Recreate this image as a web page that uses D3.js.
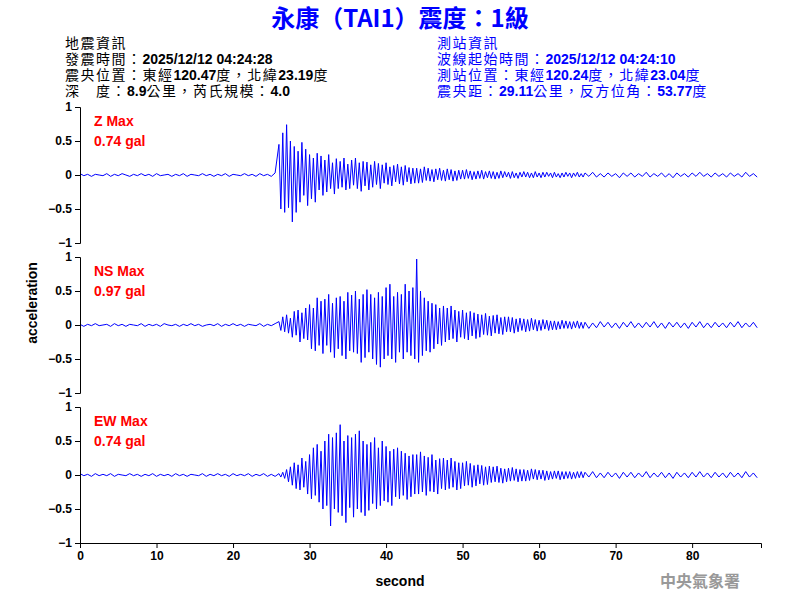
<!DOCTYPE html>
<html><head><meta charset="utf-8">
<script src="https://cdn.jsdelivr.net/npm/d3@7"></script>
<style>body{margin:0;background:#fff}</style>
</head><body>
<script>
// segment starts / steps (seconds)
var noiseStart = 0, noiseStep = 0.5;
var activeStart = 26, activeStep = 0.25;
var tailStart = 66, tailStep = 0.5;

var channels = ["Z", "NS", "EW"];
var maxValues = ["0.74", "0.97", "0.74"];

var zNoise = [0.02,-0.01,0.01,-0.02,0.01,0.00,-0.01,0.02,-0.02,0.01,-0.01,0.02,0.00,-0.02,0.01,-0.01,0.02,-0.01,0.01,-0.02,0.02,-0.01,0.00,0.01,-0.02,0.01,-0.01,0.02,-0.02,0.01,0.00,-0.01,0.02,-0.01,0.01,-0.02,0.01,-0.01,0.02,-0.02,0.01,0.00,-0.01,0.02,-0.01,0.01,-0.02,0.02,-0.01,0.01,-0.02,0.03];
var zActive = [0.45,-0.5,0.62,-0.55,0.74,-0.48,0.5,-0.69,
0.42,-0.55,0.35,-0.4,0.48,-0.3,0.38,-0.45,
0.3,-0.35,0.25,-0.4,0.32,-0.22,0.28,-0.3,
0.22,-0.25,0.3,-0.2,0.18,-0.28,0.24,-0.2,
0.2,-0.18,0.25,-0.22,0.16,-0.2,0.22,-0.15,
0.25,-0.2,0.18,-0.24,0.2,-0.16,0.19,-0.22,
0.15,-0.18,0.2,-0.14,0.17,-0.2,0.15,-0.12,
0.18,-0.14,0.12,-0.16,0.14,-0.1,0.16,-0.13,
0.12,-0.15,0.14,-0.1,0.11,-0.13,0.1,-0.12,
0.1,-0.12,0.09,-0.11,0.12,-0.08,0.1,-0.09,
0.08,-0.1,0.09,-0.07,0.1,-0.08,0.07,-0.09,
0.09,-0.07,0.08,-0.09,0.06,-0.08,0.07,-0.06,
0.07,-0.06,0.08,-0.05,0.06,-0.07,0.05,-0.06,
0.06,-0.05,0.07,-0.06,0.05,-0.04,0.06,-0.05,
0.05,-0.06,0.04,-0.05,0.06,-0.04,0.05,-0.03,
0.04,-0.05,0.05,-0.04,0.03,-0.05,0.04,-0.03,
0.05,-0.03,0.04,-0.04,0.03,-0.04,0.05,-0.03,
0.03,-0.04,0.04,-0.03,0.04,-0.02,0.03,-0.04,
0.04,-0.03,0.02,-0.04,0.03,-0.03,0.04,-0.02,
0.03,-0.04,0.03,-0.02,0.04,-0.03,0.02,-0.03];
var zTail = [0.03,-0.02,0.04,-0.03,0.02,-0.03,0.03,-0.02,0.02,-0.04,0.03,-0.02,0.03,-0.03,0.02,-0.02,0.04,-0.03,0.02,-0.02,0.03,-0.03,0.02,-0.04,0.03,-0.02,0.02,-0.03,0.03,-0.02,0.04,-0.02,0.02,-0.03,0.03,-0.02,0.02,-0.03,0.03,-0.02,0.02,-0.03,0.04,-0.02,0.02,-0.03];

var nsNoise = [0.01,-0.02,0.01,-0.01,0.02,-0.01,0.00,0.01,-0.02,0.02,-0.01,0.01,-0.02,0.01,0.00,-0.01,0.02,-0.02,0.01,-0.01,0.01,-0.02,0.02,0.00,-0.01,0.01,-0.02,0.01,-0.01,0.02,-0.01,0.01,-0.02,0.00,0.01,-0.01,0.02,-0.02,0.01,-0.01,0.02,-0.01,0.01,-0.02,0.01,0.00,-0.01,0.02,-0.02,0.01,-0.01,0.02];
var nsActive = [0.05,-0.08,0.12,-0.1,0.15,-0.12,0.1,-0.18,
0.2,-0.15,0.22,-0.25,0.18,-0.2,0.25,-0.22,
0.3,-0.35,0.25,-0.38,0.4,-0.3,0.35,-0.42,
0.38,-0.3,0.45,-0.4,0.32,-0.48,0.4,-0.35,
0.42,-0.45,0.35,-0.5,0.48,-0.38,0.44,-0.4,
0.5,-0.42,0.38,-0.55,0.45,-0.48,0.52,-0.4,
0.45,-0.5,0.4,-0.58,0.48,-0.62,0.42,-0.5,
0.55,-0.45,0.6,-0.5,0.42,-0.55,0.48,-0.4,
0.45,-0.5,0.6,-0.4,0.5,-0.45,0.55,-0.5,
0.97,-0.55,0.5,-0.45,0.4,-0.38,0.35,-0.4,
0.32,-0.35,0.3,-0.28,0.25,-0.3,0.28,-0.25,
0.25,-0.22,0.28,-0.2,0.22,-0.25,0.2,-0.18,
0.22,-0.2,0.18,-0.22,0.2,-0.16,0.18,-0.2,
0.16,-0.18,0.15,-0.14,0.17,-0.15,0.13,-0.16,
0.14,-0.12,0.15,-0.13,0.11,-0.14,0.12,-0.1,
0.12,-0.1,0.11,-0.12,0.09,-0.1,0.1,-0.08,
0.09,-0.1,0.08,-0.09,0.1,-0.07,0.08,-0.09,
0.07,-0.08,0.08,-0.06,0.07,-0.08,0.06,-0.07,
0.06,-0.07,0.05,-0.06,0.07,-0.05,0.06,-0.05,
0.05,-0.06,0.05,-0.04,0.06,-0.05,0.04,-0.05];
var nsTail = [0.04,-0.05,0.03,-0.04,0.05,-0.03,0.04,-0.04,0.03,-0.05,0.04,-0.03,0.05,-0.04,0.03,-0.04,0.04,-0.03,0.05,-0.04,0.03,-0.05,0.04,-0.03,0.04,-0.04,0.03,-0.05,0.04,-0.03,0.05,-0.04,0.03,-0.04,0.04,-0.03,0.03,-0.04,0.04,-0.03,0.05,-0.04,0.03,-0.03,0.04,-0.04];

var ewNoise = [0.02,-0.01,0.01,-0.02,0.02,-0.01,0.01,-0.01,0.02,-0.02,0.01,0.00,-0.01,0.02,-0.01,0.01,-0.02,0.01,-0.01,0.02,-0.02,0.01,-0.01,0.01,-0.02,0.02,-0.01,0.01,-0.02,0.01,0.00,-0.01,0.02,-0.02,0.01,-0.01,0.02,-0.01,0.01,-0.02,0.02,-0.01,0.01,-0.01,0.02,-0.02,0.01,-0.01,0.02,-0.02,0.01,-0.02];
var ewActive = [0.02,-0.03,0.04,-0.05,0.08,-0.1,0.12,-0.15,
0.18,-0.2,0.15,-0.22,0.25,-0.18,0.2,-0.28,
0.3,-0.35,0.4,-0.3,0.45,-0.4,0.35,-0.5,
0.5,-0.45,0.6,-0.75,0.55,-0.5,0.62,-0.55,
0.74,-0.6,0.5,-0.7,0.58,-0.48,0.55,-0.62,
0.6,-0.5,0.65,-0.55,0.5,-0.6,0.45,-0.52,
0.48,-0.42,0.55,-0.5,0.4,-0.45,0.5,-0.38,
0.42,-0.4,0.35,-0.45,0.38,-0.32,0.4,-0.35,
0.35,-0.3,0.32,-0.36,0.28,-0.32,0.3,-0.28,
0.3,-0.28,0.34,-0.25,0.28,-0.3,0.26,-0.24,
0.3,-0.25,0.22,-0.28,0.24,-0.2,0.25,-0.22,
0.22,-0.2,0.25,-0.18,0.2,-0.22,0.18,-0.2,
0.18,-0.16,0.2,-0.15,0.17,-0.18,0.14,-0.16,
0.15,-0.13,0.14,-0.15,0.12,-0.14,0.13,-0.11,
0.12,-0.1,0.13,-0.11,0.1,-0.12,0.09,-0.1,
0.1,-0.09,0.11,-0.08,0.09,-0.1,0.08,-0.09,
0.08,-0.09,0.07,-0.08,0.09,-0.06,0.08,-0.07,
0.07,-0.06,0.07,-0.08,0.06,-0.07,0.05,-0.06,
0.06,-0.05,0.06,-0.07,0.05,-0.06,0.05,-0.05,
0.05,-0.06,0.04,-0.05,0.05,-0.04,0.05,-0.04];
var ewTail = [0.04,-0.03,0.05,-0.04,0.03,-0.04,0.04,-0.03,0.03,-0.05,0.04,-0.03,0.04,-0.04,0.03,-0.03,0.05,-0.04,0.03,-0.03,0.04,-0.04,0.03,-0.05,0.04,-0.03,0.03,-0.04,0.04,-0.03,0.05,-0.03,0.03,-0.04,0.04,-0.03,0.03,-0.04,0.04,-0.03,0.03,-0.04,0.05,-0.03,0.03,-0.04];

var traces = [[zNoise, zActive, zTail], [nsNoise, nsActive, nsTail], [ewNoise, ewActive, ewTail]];
var yTicks = [1, 0.5, 0, -0.5, -1];
var xTicks = [0, 10, 20, 30, 40, 50, 60, 70, 80];

var headerLeft = ["地震資訊", "發震時間：2025/12/12 04:24:28", "震央位置：東經120.47度，北緯23.19度", "深　度：8.9公里，芮氏規模：4.0"];
var headerRight = ["測站資訊", "波線起始時間：2025/12/12 04:24:10", "測站位置：東經120.24度，北緯23.04度", "震央距：29.11公里，反方位角：53.77度"];

function toPoints(segs) {
  var pts = [];
  segs[0].forEach(function(v, i){ pts.push([noiseStart + i * noiseStep, v]); });
  segs[1].forEach(function(v, i){ pts.push([activeStart + i * activeStep, v]); });
  segs[2].forEach(function(v, i){ pts.push([tailStart + i * tailStep, v]); });
  return pts;
}

var cjk = "'Noto Sans CJK TC', 'Noto Sans CJK SC', sans-serif";
var arial = "Arial, 'Liberation Sans', sans-serif";
var svg = d3.select("body").append("svg").attr("width", 800).attr("height", 600);

svg.append("text").attr("x", 400).attr("y", 27).attr("text-anchor", "middle")
  .attr("fill", "#0000ff").attr("font-size", 24).attr("font-weight", "bold")
  .attr("font-family", cjk).text("永康（TAI1）震度：1級");

// ascii runs bold arial, CJK runs plain
function headerLine(x0, y0, str, col) {
  var t = svg.append("text").attr("x", x0).attr("y", y0).attr("fill", col);
  str.match(/[\x20-\x7e]+|[^\x20-\x7e]+/g).forEach(function(part){
    var ascii = /^[\x20-\x7e]+$/.test(part);
    t.append("tspan").attr("font-family", ascii ? arial : cjk)
      .attr("font-weight", ascii ? "bold" : "normal")
      .attr("letter-spacing", ascii ? 0 : 1.5)
      .attr("font-size", 14).text(part);
  });
}
headerLeft.forEach(function(s, i){ headerLine(65, 48 + i * 16, s, "#000"); });
headerRight.forEach(function(s, i){ headerLine(437, 48 + i * 16, s, "#0000ff"); });

var x = d3.scaleLinear().domain([0, 89]).range([80, 761]);
var panelTops = [107, 257, 407];
var panelH = 136;

traces.forEach(function(segs, k){
  var y = d3.scaleLinear().domain([-1, 1]).range([panelTops[k] + panelH, panelTops[k]]);
  var g = svg.append("g");
  g.append("path").datum(toPoints(segs))
    .attr("fill", "none").attr("stroke", "#0000ff").attr("stroke-width", 1)
    .attr("d", d3.line().x(function(d){ return x(d[0]); }).y(function(d){ return y(d[1]); }));
  var ax = g.append("g").attr("transform", "translate(80,0)")
    .call(d3.axisLeft(y).tickValues(yTicks).tickSize(5).tickFormat(d3.format("")));
  ax.selectAll("text").attr("font-size", 12).attr("font-family", arial).attr("font-weight", "bold");
  g.append("text").attr("x", 94).attr("y", panelTops[k] + 19).attr("fill", "#ff0000").attr("font-weight", "bold")
    .attr("font-size", 14).attr("font-family", arial).text(channels[k] + " Max");
  g.append("text").attr("x", 94).attr("y", panelTops[k] + 39).attr("fill", "#ff0000").attr("font-weight", "bold")
    .attr("font-size", 14).attr("font-family", arial).text(maxValues[k] + " gal");
});

var xa = svg.append("g").attr("transform", "translate(0,543)")
  .call(d3.axisBottom(x).tickValues(xTicks).tickSize(5).tickFormat(d3.format("d")));
xa.selectAll("text").attr("font-size", 12).attr("font-family", arial).attr("font-weight", "bold");

svg.append("text").attr("transform", "translate(37,303) rotate(-90)").attr("text-anchor", "middle")
  .attr("font-size", 14).attr("font-weight", "bold").attr("font-family", arial).text("acceleration");
svg.append("text").attr("x", 400).attr("y", 586).attr("text-anchor", "middle")
  .attr("font-size", 14).attr("font-weight", "bold").attr("font-family", arial).text("second");
svg.append("text").attr("x", 700).attr("y", 587).attr("text-anchor", "middle")
  .attr("font-size", 16).attr("font-weight", "bold").attr("fill", "#999").attr("font-family", cjk).text("中央氣象署");
</script>
</body></html>
